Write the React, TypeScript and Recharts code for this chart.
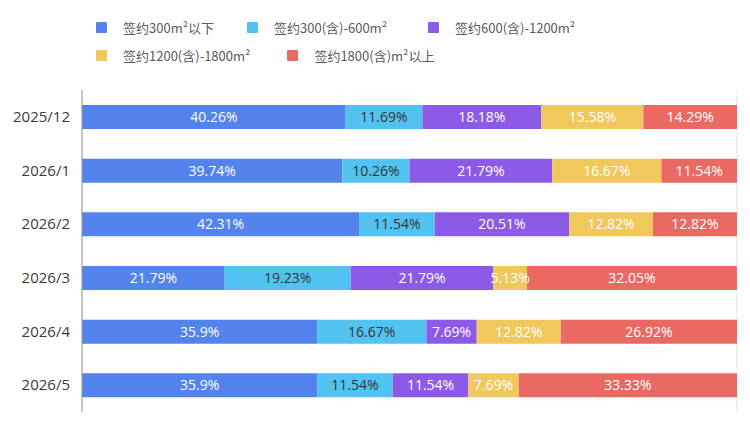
import { FC } from "react";
import {
   BarChart,
   Bar,
   XAxis,
   YAxis,
   CartesianGrid,
   LabelList,
} from "recharts";

const months = ["2025/12", "2026/1", "2026/2", "2026/3", "2026/4", "2026/5"];

const under300 = [40.26, 39.74, 42.31, 21.79, 35.9, 35.9];
const from300to600 = [11.69, 10.26, 11.54, 19.23, 16.67, 11.54];
const from600to1200 = [18.18, 21.79, 20.51, 21.79, 7.69, 11.54];
const from1200to1800 = [15.58, 16.67, 12.82, 5.13, 12.82, 7.69];
const over1800 = [14.29, 11.54, 12.82, 32.05, 26.92, 33.33];

const percentTicks = [0, 10, 20, 30, 40, 50, 60, 70, 80, 90, 100];

const CJK_FONT = '"Noto Sans CJK SC", "Noto Sans", sans-serif';
const NUM_FONT = '"Open Sans", "Noto Sans CJK SC", sans-serif';

const series = [
   { key: "s1", name: "签约300m²以下", values: under300, color: "#5383EC", label: "#FFFFFF", gap: 33 },
   { key: "s2", name: "签约300(含)-600m²", values: from300to600, color: "#52C3F1", label: "#333333", gap: 41 },
   { key: "s3", name: "签约600(含)-1200m²", values: from600to1200, color: "#8D5AE8", label: "#FFFFFF", gap: 35 },
   { key: "s4", name: "签约1200(含)-1800m²", values: from1200to1800, color: "#F0C85C", label: "#FFFFFF", gap: 37 },
   { key: "s5", name: "签约1800(含)m²以上", values: over1800, color: "#EA6A63", label: "#FFFFFF", gap: 35 },
];

const data = months.map((month, i) => {
   const row: Record<string, string | number> = { month };
   series.forEach((s) => {
      row[s.key] = s.values[i];
   });
   return row;
});

// legend wraps after the third entry
const legendRows = [series.slice(0, 3), series.slice(3)];

const LegendItem: FC<{ name: string; color: string; gap: number }> = ({ name, color, gap }) => (
   <div style={{ display: "flex", alignItems: "center", marginRight: gap }}>
      <span
         style={{
            width: 11,
            height: 11,
            background: color,
            borderRadius: 1,
            marginRight: 16,
         }}
      />
      <span style={{ fontSize: 13, color: "#5A5A5A", whiteSpace: "nowrap" }}>{name}</span>
   </div>
);

const App: FC = () => {
   return (
      <div
         style={{
            position: "fixed",
            left: 0,
            top: 0,
            width: 750,
            height: 425,
            background: "#FFFFFF",
            fontFamily: CJK_FONT,
         }}
      >
         <div style={{ position: "absolute", left: 96, top: 13 }}>
            {legendRows.map((row, r) => (
               <div key={r} style={{ display: "flex", height: 28 }}>
                  {row.map((s) => (
                     <LegendItem key={s.key} name={s.name} color={s.color} gap={s.gap} />
                  ))}
               </div>
            ))}
         </div>
         <BarChart
            width={750}
            height={425}
            data={data}
            layout="vertical"
            margin={{ top: 90, right: 13, bottom: 13, left: 0 }}
            style={{ position: "absolute", left: 0, top: 0 }}
         >
            <CartesianGrid horizontal={false} stroke="#E6E6E6" />
            <XAxis
               type="number"
               domain={[0, 100]}
               ticks={percentTicks}
               tick={false}
               tickLine={false}
               axisLine={false}
               height={0}
            />
            <YAxis
               type="category"
               dataKey="month"
               width={82}
               tickLine={false}
               tickMargin={6}
               axisLine={{ stroke: "#999999" }}
               tick={{ fill: "#3A3A3A", fontSize: 15, fontFamily: NUM_FONT }}
            />
            {series.map((s) => (
               <Bar
                  key={s.key}
                  dataKey={s.key}
                  name={s.name}
                  stackId="share"
                  fill={s.color}
                  barSize={24}
                  isAnimationActive={false}
               >
                  <LabelList
                     dataKey={s.key}
                     position="center"
                     formatter={(v: number) => `${v}%`}
                     style={{ fontSize: 14, fill: s.label, fontFamily: NUM_FONT }}
                  />
               </Bar>
            ))}
         </BarChart>
      </div>
   );
};

export default App;
